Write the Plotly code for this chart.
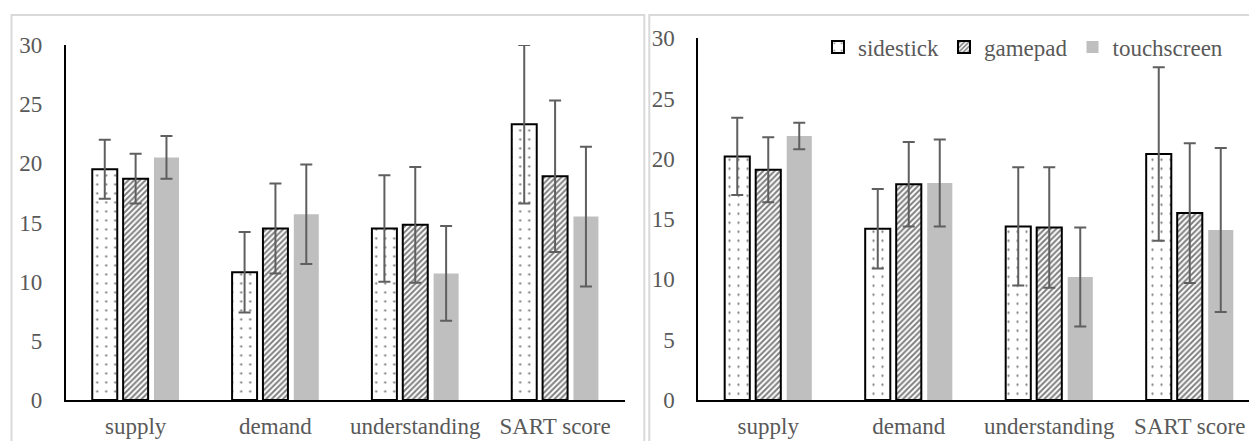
import plotly.graph_objects as go

categories = ["supply", "demand", "understanding", "SART score"]
series_names = ["sidestick", "gamepad", "touchscreen"]

# left panel
left_sidestick = [19.5, 10.8, 14.5, 23.3]
left_sidestick_err = [2.5, 3.4, 4.5, 6.7]
left_gamepad = [18.7, 14.5, 14.8, 18.9]
left_gamepad_err = [2.1, 3.8, 4.9, 6.4]
left_touch = [20.5, 15.7, 10.7, 15.5]
left_touch_err = [1.8, 4.2, 4.0, 5.9]

# right panel
right_sidestick = [20.2, 14.2, 14.4, 20.4]
right_sidestick_err = [3.2, 3.3, 4.9, 7.2]
right_gamepad = [19.1, 17.9, 14.3, 15.5]
right_gamepad_err = [2.7, 3.5, 5.0, 5.8]
right_touch = [21.9, 18.0, 10.2, 14.1]
right_touch_err = [1.1, 3.6, 4.1, 6.8]

y_ticks = [0, 5, 10, 15, 20, 25, 30]

W, H = 1257, 441
OFF = 8  # page body margin
FONT = "Liberation Serif"
TXT = "#595959"
ERRC = "#5f5f5f"

def px_x(p):
    return (p - OFF) / W

def px_y(p):
    return (H - (p - OFF)) / H

styles = [
    dict(color="white", line=dict(color="black", width=2),
         pattern=dict(shape=".", fgcolor="black", bgcolor="white", size=9, solidity=0.05)),
    dict(color="white", line=dict(color="black", width=2),
         pattern=dict(shape="/", fgcolor="black", bgcolor="white", size=4, solidity=0.5)),
    dict(color="#BFBFBF", line=dict(color="#BFBFBF", width=0)),
]

fig = go.Figure()

panels = [
    ("x", "y", [left_sidestick, left_gamepad, left_touch],
     [left_sidestick_err, left_gamepad_err, left_touch_err], False),
    ("x2", "y2", [right_sidestick, right_gamepad, right_touch],
     [right_sidestick_err, right_gamepad_err, right_touch_err], True),
]

for xa, ya, vals, errs, show in panels:
    for i, name in enumerate(series_names):
        fig.add_trace(go.Bar(
            x=categories, y=vals[i], name=name, xaxis=xa, yaxis=ya,
            marker=styles[i], showlegend=show,
            error_y=dict(type="data", array=errs[i], color=ERRC, thickness=2, width=6),
        ))

axis_font = dict(family=FONT, size=23, color=TXT)
common_x = dict(showline=True, linecolor="black", linewidth=1.5, showgrid=False, ticks="",
                tickfont=axis_font, ticklabelstandoff=5, automargin=False)
common_y = dict(range=[0, 30], tickvals=y_ticks, showline=True, linecolor="black",
                linewidth=1.5, showgrid=False, zeroline=False, ticks="", tickfont=axis_font,
                ticklabelstandoff=17, automargin=False)

# right panel: plot spans page px 698 .. 1265 (figure edge), 140.5 px per category
r_end = -0.5 + (1265 - 698) / 140.5

fig.update_layout(
    width=W, height=H,
    margin=dict(l=0, r=0, t=0, b=0, autoexpand=False),
    paper_bgcolor="white", plot_bgcolor="white",
    barmode="group", bargap=0.338, bargroupgap=0.19,
    font=axis_font,
    xaxis=dict(domain=[px_x(65.7), px_x(625)], range=[-0.5, 3.5], anchor="y", **common_x),
    yaxis=dict(domain=[px_y(400), px_y(45)], anchor="x", **common_y),
    xaxis2=dict(domain=[px_x(698), 1.0], range=[-0.5, r_end], anchor="y2", **common_x),
    yaxis2=dict(domain=[px_y(400), px_y(38.3)], anchor="x2", **common_y),
    legend=dict(orientation="h", x=px_x(818), y=px_y(47), xanchor="left", yanchor="middle",
                font=axis_font, bgcolor="rgba(0,0,0,0)", traceorder="normal",
                itemwidth=30),
    shapes=[
        dict(type="rect", xref="paper", yref="paper", x0=px_x(11.5), x1=px_x(644.3),
             y0=-0.2, y1=px_y(15), line=dict(color="#D9D9D9", width=2), layer="below"),
        dict(type="rect", xref="paper", yref="paper", x0=px_x(649.3), x1=1.2,
             y0=-0.2, y1=px_y(15), line=dict(color="#D9D9D9", width=2), layer="below"),
    ],
)

fig.write_html("out.html")
